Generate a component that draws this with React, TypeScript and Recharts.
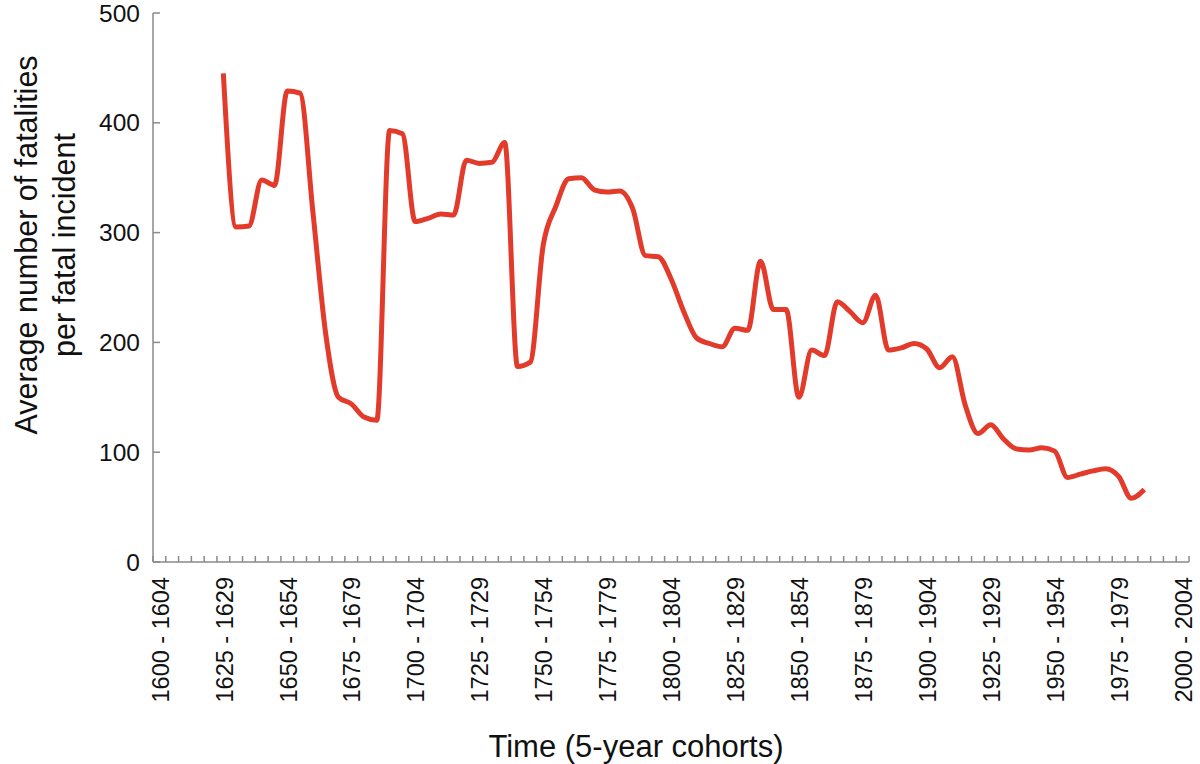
import { Label, Line, LineChart, XAxis, YAxis } from "recharts";

const FONT = "'Liberation Sans', Arial, Helvetica, sans-serif";
const AXIS_GREY = "#8a8a8a";
const LINE_RED = "#e23b2b";

// start year of each 5-year cohort on the axis (1600-1604 ... 2000-2004)
const cohortStart = [
  1600, 1605, 1610, 1615, 1620, 1625, 1630, 1635, 1640, 1645,
  1650, 1655, 1660, 1665, 1670, 1675, 1680, 1685, 1690, 1695,
  1700, 1705, 1710, 1715, 1720, 1725, 1730, 1735, 1740, 1745,
  1750, 1755, 1760, 1765, 1770, 1775, 1780, 1785, 1790, 1795,
  1800, 1805, 1810, 1815, 1820, 1825, 1830, 1835, 1840, 1845,
  1850, 1855, 1860, 1865, 1870, 1875, 1880, 1885, 1890, 1895,
  1900, 1905, 1910, 1915, 1920, 1925, 1930, 1935, 1940, 1945,
  1950, 1955, 1960, 1965, 1970, 1975, 1980, 1985, 1990, 1995,
  2000,
];

// average fatalities per fatal incident, one per cohort (null = no data)
const avgFatalities: (number | null)[] = [
  null, null, null, null, null, 445, 305, 306, 348, 343,
  429, 427, 319, 208, 150, 144, 132, 129, 393, 390,
  310, 313, 317, 316, 366, 363, 364, 382, 178, 182,
  288, 324, 349, 350, 339, 337, 338, 322, 279, 278,
  258, 228, 204, 199, 196, 213, 211, 274, 230, 230,
  150, 193, 188, 237, 228, 218, 243, 193, 195, 199,
  194, 177, 187, 143, 117, 125, 112, 103, 102, 104,
  101, 77, 80, 83, 85, 78, 58, 66, null, null,
  null,
];

// every fifth cohort gets a label
const labelledCohorts = [
  "1600 - 1604", "1625 - 1629", "1650 - 1654", "1675 - 1679",
  "1700 - 1704", "1725 - 1729", "1750 - 1754", "1775 - 1779",
  "1800 - 1804", "1825 - 1829", "1850 - 1854", "1875 - 1879",
  "1900 - 1904", "1925 - 1929", "1950 - 1954", "1975 - 1979",
  "2000 - 2004",
];

const yTicks = [0, 100, 200, 300, 400, 500];

const data = cohortStart.map((year, i) => ({
  cohort: `${year} - ${year + 4}`,
  pos: i + 0.5,
  value: avgFatalities[i],
}));

const n = cohortStart.length;
// tick marks sit between cohorts, labels sit at the cohort centre
const boundaryTicks = Array.from({ length: n + 1 }, (_, i) => i);
const labelTicks = data
  .filter((d) => labelledCohorts.includes(d.cohort))
  .map((d) => d.pos);
const xTicks = [...boundaryTicks, ...labelTicks].sort((a, b) => a - b);

function CohortTick(props: any) {
  const { x, y, payload } = props;
  const v = payload.value as number;
  if (Number.isInteger(v)) {
    return (
      <line x1={x} x2={x} y1={y} y2={y - 6} stroke={AXIS_GREY} strokeWidth={1.5} />
    );
  }
  const row = data[Math.floor(v)];
  return (
    <text
      transform={`translate(${x + 1},${y + 15}) rotate(-90)`}
      textAnchor="end"
      dy="0.35em"
      fontSize={23.5}
      fontFamily={FONT}
      fill="#111"
    >
      {row.cohort}
    </text>
  );
}

function YTitle() {
  return (
    <g fontFamily={FONT} fontSize={30.5} fill="#111">
      <text transform="translate(26,245) rotate(-90)" textAnchor="middle" dy="0.35em">
        Average number of fatalities
      </text>
      <text transform="translate(64,245) rotate(-90)" textAnchor="middle" dy="0.35em">
        per fatal incident
      </text>
    </g>
  );
}

function XTitle() {
  return (
    <text x={636} y={746} textAnchor="middle" dy="0.35em" fontFamily={FONT} fontSize={31} fill="#111">
      Time (5-year cohorts)
    </text>
  );
}

export default function App() {
  return (
    <div style={{ position: "absolute", left: 0, top: 0, width: 1200, height: 764, background: "#fff" }}>
      <LineChart
        width={1200}
        height={764}
        data={data}
        margin={{ top: 13, right: 11, bottom: 0, left: 0 }}
      >
        <XAxis
          dataKey="pos"
          type="number"
          domain={[0, n]}
          ticks={xTicks}
          interval={0}
          height={202}
          tickSize={0}
          tickMargin={0}
          tickLine={false}
          axisLine={{ stroke: AXIS_GREY, strokeWidth: 1.5 }}
          tick={<CohortTick />}
          allowDecimals
        >
          <Label content={<XTitle />} />
        </XAxis>
        <YAxis
          type="number"
          domain={[0, 500]}
          ticks={yTicks}
          interval={0}
          width={153}
          tickSize={-7}
          tickMargin={20}
          axisLine={{ stroke: AXIS_GREY, strokeWidth: 1.5 }}
          tickLine={{ stroke: AXIS_GREY, strokeWidth: 1.5 }}
          tick={{ fill: "#111", fontSize: 24.5, fontFamily: FONT }}
        >
          <Label content={<YTitle />} />
        </YAxis>
        <Line
          type="monotone"
          dataKey="value"
          stroke={LINE_RED}
          strokeWidth={5}
          dot={false}
          activeDot={false}
          isAnimationActive={false}
        />
      </LineChart>
    </div>
  );
}
